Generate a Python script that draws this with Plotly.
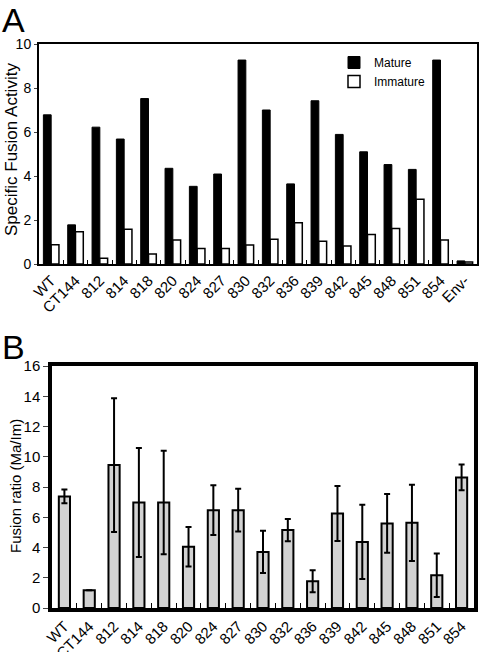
import plotly.graph_objects as go

# ---- Panel A data ----
cats_a = ["WT", "CT144", "812", "814", "818", "820", "824", "827", "830", "832",
          "836", "839", "842", "845", "848", "851", "854", "Env-"]
mature = [6.78, 1.78, 6.22, 5.68, 7.52, 4.35, 3.53, 4.09, 9.27, 7.0,
          3.64, 7.42, 5.89, 5.1, 4.52, 4.3, 9.27, 0.14]
immature = [0.87, 1.47, 0.26, 1.58, 0.45, 1.09, 0.71, 0.71, 0.86, 1.12,
            1.88, 1.03, 0.82, 1.34, 1.61, 2.94, 1.09, 0.09]

# ---- Panel B data ----
cats_b = ["WT", "CT144", "812", "814", "818", "820", "824", "827", "830", "832",
          "836", "839", "842", "845", "848", "851", "854"]
ratio = [7.38, 1.17, 9.45, 6.98, 6.98, 4.05, 6.47, 6.47, 3.71, 5.15,
         1.77, 6.25, 4.37, 5.59, 5.63, 2.17, 8.63]
ratio_err = [0.45, 0, 4.42, 3.6, 3.42, 1.3, 1.65, 1.41, 1.4, 0.73,
             0.73, 1.82, 2.46, 1.94, 2.52, 1.44, 0.85]

W, H = 482, 652
ARIAL = "Liberation Sans, Arial, sans-serif"

fig = go.Figure()
fig.add_trace(go.Bar(x=cats_a, y=mature, name="Mature", marker=dict(color="black", line=dict(color="black", width=1)),
                     xaxis="x", yaxis="y"))
fig.add_trace(go.Bar(x=cats_a, y=immature, name="Immature", marker=dict(color="white", line=dict(color="black", width=1.5)),
                     xaxis="x", yaxis="y"))
fig.add_trace(go.Bar(x=cats_b, y=ratio, name="ratio", showlegend=False,
                     marker=dict(color="#d2d2d2", line=dict(color="black", width=2)),
                     error_y=dict(type="data", array=ratio_err, visible=True, color="black", thickness=2, width=3),
                     xaxis="x2", yaxis="y2", width=0.45))

def px_x(a, b):
    return [a / W, b / W]

def px_y(top, bottom):
    return [1 - bottom / H, 1 - top / H]

fig.update_layout(
    width=W, height=H, margin=dict(l=0, r=0, t=0, b=0, autoexpand=False),
    paper_bgcolor="white", plot_bgcolor="white",
    barmode="group", bargap=0.36, bargroupgap=0,
    font=dict(family=ARIAL, color="black"),
    showlegend=True,
    legend=dict(x=334 / W, y=1 - 48 / H, xanchor="left", yanchor="top",
                font=dict(family=ARIAL, size=12), bgcolor="rgba(0,0,0,0)",
                tracegroupgap=0, itemwidth=30),
    xaxis=dict(domain=px_x(39, 477), anchor="y", showline=True, linecolor="black", linewidth=2,
               mirror=True, ticks="inside", tickson="boundaries", ticklen=4, tickcolor="black",
               tickangle=-45, tickfont=dict(family=ARIAL, size=15), showgrid=False, automargin=False),
    yaxis=dict(domain=px_y(44, 264), anchor="x", range=[0, 10], dtick=2, showline=True,
               linecolor="black", linewidth=2, mirror=True, ticks="outside", ticklen=3,
               tickfont=dict(family=ARIAL, size=14), showgrid=False, zeroline=False, automargin=False),
    xaxis2=dict(domain=px_x(52, 474), anchor="y2", showline=True, linecolor="black", linewidth=3.5,
                mirror=True, ticks="inside", tickson="boundaries", ticklen=5, tickcolor="black",
                tickangle=-45, tickfont=dict(family=ARIAL, size=15), showgrid=False, automargin=False),
    yaxis2=dict(domain=px_y(366, 608), anchor="x2", range=[0, 16], dtick=2, showline=True,
                linecolor="black", linewidth=3.5, mirror=True, ticks="outside", ticklen=5,
                tickfont=dict(family=ARIAL, size=15), showgrid=False, zeroline=False, automargin=False),
    annotations=[
        dict(text="A", x=1 / W, y=1, xref="paper", yref="paper", xanchor="left", yanchor="top",
             showarrow=False, font=dict(size=34, family=ARIAL), borderpad=0),
        dict(text="B", x=1 / W, y=1 - 327 / H, xref="paper", yref="paper", xanchor="left", yanchor="top",
             showarrow=False, font=dict(size=34, family=ARIAL), borderpad=0),
        dict(text="Specific Fusion Activity", textangle=-90, x=11 / W, y=1 - 150 / H, xref="paper", yref="paper",
             xanchor="center", yanchor="middle", showarrow=False, font=dict(size=17, family=ARIAL)),
        dict(text="Fusion ratio (Ma/Im)", textangle=-90, x=15 / W, y=1 - 486 / H, xref="paper", yref="paper",
             xanchor="center", yanchor="middle", showarrow=False, font=dict(size=15, family=ARIAL)),
    ],
)

fig.write_html("out.html", post_script="document.body.style.margin='0px';",
               config={"displayModeBar": False})
